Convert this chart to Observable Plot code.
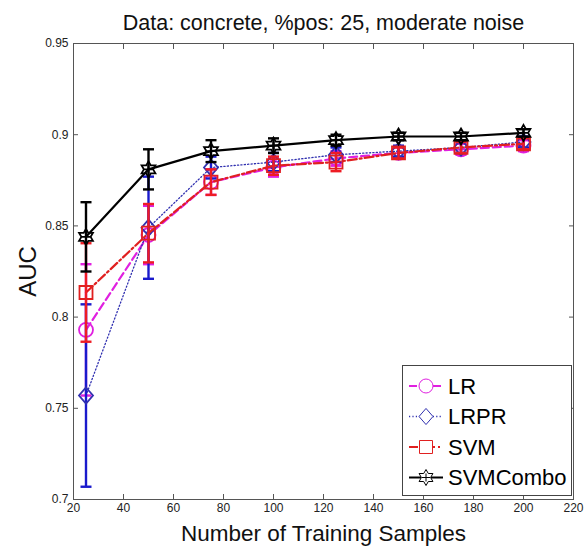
<!DOCTYPE html>
<html><head><meta charset="utf-8">
<script src="https://cdn.jsdelivr.net/npm/d3@7"></script>
<script src="https://cdn.jsdelivr.net/npm/@observablehq/plot@0.6"></script>
<style>
body{margin:0;background:#fff;font-family:"Liberation Sans",Arial,sans-serif;}
#wrap{position:relative;width:585px;height:546px;}
#legend{position:absolute;left:402px;top:365px;width:170px;height:131px;border:1px solid #444;background:#fff;box-sizing:border-box;}
</style></head>
<body><div id="wrap"></div>
<script>
const titleText = "Data: concrete, %pos: 25, moderate noise";
const xLabel = "Number of Training Samples";
const yLabel = "AUC";
const xTicks = [20,40,60,80,100,120,140,160,180,200,220];
const yTicks = [0.7,0.75,0.8,0.85,0.9,0.95];
const samples = [25,50,75,100,125,150,175,200];
const seriesNames = ["LR","LRPR","SVM","SVMCombo"];
const lrMean    = [0.793,0.845,0.874,0.882,0.887,0.890,0.892,0.894];
const lrErr     = [0.036,0.016,0.007,0.005,0.004,0.003,0.003,0.003];
const lrprMean  = [0.757,0.849,0.882,0.885,0.889,0.891,0.893,0.896];
const lrprErr   = [0.050,0.028,0.006,0.005,0.004,0.003,0.003,0.003];
const svmMean   = [0.8135,0.846,0.874,0.883,0.885,0.890,0.893,0.895];
const svmErr    = [0.027,0.016,0.007,0.005,0.005,0.003,0.003,0.003];
const comboMean = [0.844,0.881,0.891,0.894,0.897,0.899,0.899,0.901];
const comboErr  = [0.019,0.011,0.006,0.004,0.003,0.002,0.002,0.002];

const toRows = (name, m, e) => samples.map((x,i)=>({series:name,x,y:m[i],lo:m[i]-e[i],hi:m[i]+e[i]}));
const rows = {
  LR: toRows("LR", lrMean, lrErr),
  LRPR: toRows("LRPR", lrprMean, lrprErr),
  SVM: toRows("SVM", svmMean, svmErr),
  SVMCombo: toRows("SVMCombo", comboMean, comboErr)
};

const rOf = s => Math.sqrt(s/Math.PI);
const capSym = {draw(c,s){const r=rOf(s); c.moveTo(-r,0); c.lineTo(r,0);}};
const diamondSym = {draw(c,s){const r=rOf(s); c.moveTo(0,-r*1.15); c.lineTo(r,0); c.lineTo(0,r*1.15); c.lineTo(-r,0); c.closePath();}};
const squareSym = {draw(c,s){const r=rOf(s); c.rect(-r,-r,2*r,2*r);}};
const circleSym = {draw(c,s){const r=rOf(s); c.moveTo(r,0); c.arc(0,0,r,0,2*Math.PI);}};
const hexSym = {draw(c,s){const r=rOf(s); const ri=r/Math.sqrt(3);
  for(let k=0;k<12;k++){const a=-Math.PI/2+k*Math.PI/6; const rr=k%2?ri:r; const px=rr*Math.cos(a), py=rr*Math.sin(a); k?c.lineTo(px,py):c.moveTo(px,py);} c.closePath();
  c.moveTo(-r*0.5,0); c.lineTo(r*0.5,0); c.moveTo(0,-r*0.5); c.lineTo(0,r*0.5);}};

const styles = {
  LR:       {line:"#e020e0", err:"#e020e0", dash:"8,4", lw:2.2, sym:circleSym, r:7},
  LRPR:     {line:"#3030b0", err:"#1a1acc", dash:"1.2,2.2", lw:1.3, sym:diamondSym, r:7},
  SVM:      {line:"#e02020", err:"#ee1c24", dash:"9,3,2,3", lw:2.2, sym:squareSym, r:6.5},
  SVMCombo: {line:"#000000", err:"#000000", dash:null, lw:2.2, sym:hexSym, r:8}
};

const marks = [];
for (const name of seriesNames) {
  const st = styles[name], d = rows[name];
  marks.push(Plot.line(d, {x:"x", y:"y", stroke:st.line, strokeWidth:st.lw, strokeDasharray:st.dash}));
  marks.push(Plot.ruleX(d, {x:"x", y1:"lo", y2:"hi", stroke:st.err, strokeWidth:2.4}));
  marks.push(Plot.dot(d, {x:"x", y:"lo", symbol:capSym, r:5.5, stroke:st.err, strokeWidth:2.4}));
  marks.push(Plot.dot(d, {x:"x", y:"hi", symbol:capSym, r:5.5, stroke:st.err, strokeWidth:2.4}));
  marks.push(Plot.dot(d, {x:"x", y:"y", symbol:st.sym, r:st.r, stroke:st.line, strokeWidth:1.8, fill:"none"}));
}

const chart = Plot.plot({
  width:585, height:546,
  marginTop:43, marginLeft:73, marginRight:12, marginBottom:47,
  style:{fontFamily:"'Liberation Sans', Arial, sans-serif", background:"#fff"},
  x:{domain:[20,220]},
  y:{domain:[0.7,0.95]},
  marks:[
    Plot.frame({stroke:"#555"}),
    Plot.axisX({ticks:xTicks, tickSize:-5, tickPadding:9, tickFormat:d=>String(d), label:null, fontSize:12, stroke:"#555", color:"#222"}),
    Plot.axisX({anchor:"top", ticks:xTicks, tickSize:-5, tickFormat:()=>"", label:null, stroke:"#555"}),
    Plot.axisY({ticks:yTicks, tickSize:-5, tickPadding:10, tickFormat:d=>String(d), label:null, fontSize:12, stroke:"#555", color:"#222"}),
    Plot.axisY({anchor:"right", ticks:yTicks, tickSize:-5, tickFormat:()=>"", label:null, stroke:"#555"}),
    ...marks,
    Plot.text([titleText], {frameAnchor:"top", lineAnchor:"middle", textAnchor:"middle", dy:-20, fontSize:21.5, fill:"#111"}),
    Plot.text([xLabel], {frameAnchor:"bottom", lineAnchor:"middle", textAnchor:"middle", dy:34, fontSize:22.5, fill:"#111"}),
    Plot.text([yLabel], {frameAnchor:"left", lineAnchor:"middle", textAnchor:"middle", dx:-45, rotate:-90, fontSize:24, fill:"#111"})
  ]
});
const wrap = document.getElementById("wrap");
wrap.appendChild(chart);

// legend
const leg = document.createElement("div");
leg.id = "legend";
wrap.appendChild(leg);
const svg = d3.select(leg).append("svg").attr("width",168).attr("height",129);
seriesNames.forEach((name,i)=>{
  const st = styles[name];
  const y = 20 + i*30.5;
  const g = svg.append("g");
  g.append("line").attr("x1",6).attr("x2",40).attr("y1",y).attr("y2",y)
    .attr("stroke",st.line).attr("stroke-width",st.lw).attr("stroke-dasharray",st.dash);
  const p = d3.path(); st.sym.draw(p, st.r*st.r*Math.PI);
  g.append("path").attr("d",p.toString()).attr("transform",`translate(23,${y})`)
    .attr("fill","#fff").attr("stroke",st.line).attr("stroke-width",1);
  g.append("text").attr("x",45).attr("y",y).attr("dy","0.36em").attr("font-size",22)
    .attr("font-family","'Liberation Sans', Arial, sans-serif").text(name);
});
</script></body></html>
